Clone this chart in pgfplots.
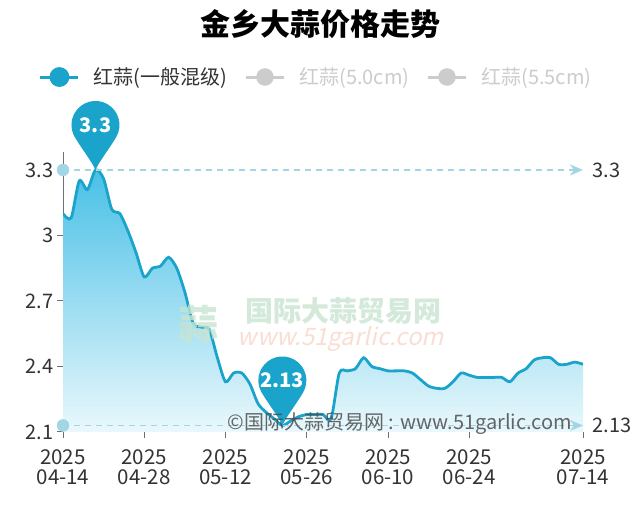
\documentclass[border=0pt]{standalone}
\usepackage{fontspec}
\setmainfont{Noto Sans CJK SC}
\newfontfamily\wmit[FakeSlant=0.22]{Noto Sans CJK SC}
\usepackage{pgfplots}
\usepackage{pgfplotstable}
\pgfplotsset{compat=1.18}
\usetikzlibrary{arrows.meta}

\definecolor{mainblue}{RGB}{26,164,204}
\definecolor{markblue}{RGB}{163,214,228}
\definecolor{fillTop}{RGB}{72,192,230}
\definecolor{fillBot}{RGB}{234,248,252}
\definecolor{axisgray}{RGB}{110,112,121}
\definecolor{ticktext}{RGB}{51,51,51}
\definecolor{legendgray}{RGB}{204,204,204}
\definecolor{wmgreen}{RGB}{200,228,208}
\definecolor{wmred}{RGB}{248,214,202}

\pgfdeclareplotmark{pin}{%
  \pgfpathmoveto{\pgfpoint{0pt}{0pt}}%
  \pgfpathcurveto{\pgfpoint{4pt}{9pt}}{\pgfpoint{13pt}{20pt}}{\pgfpoint{20.78pt}{33pt}}%
  \pgfpatharc{-30}{210}{24pt}%
  \pgfpathcurveto{\pgfpoint{-13pt}{20pt}}{\pgfpoint{-4pt}{9pt}}{\pgfpoint{0pt}{0pt}}%
  \pgfpathclose
  \pgfusepathqfill}

\pgfplotstableread{
x y
0 3.10
1 3.08
2 3.25
3 3.21
4 3.30
5 3.26
6 3.12
7 3.10
8 3.02
9 2.92
10 2.81
11 2.85
12 2.86
13 2.90
14 2.85
15 2.74
16 2.60
17 2.58
18 2.57
19 2.44
20 2.33
21 2.37
22 2.37
23 2.32
24 2.23
25 2.19
26 2.16
27 2.13
28 2.15
29 2.17
30 2.18
31 2.18
32 2.18
33 2.16
34 2.37
35 2.38
36 2.39
37 2.44
38 2.40
39 2.39
40 2.38
41 2.38
42 2.38
43 2.37
44 2.34
45 2.31
46 2.30
47 2.30
48 2.33
49 2.37
50 2.36
51 2.35
52 2.35
53 2.35
54 2.35
55 2.33
56 2.37
57 2.39
58 2.43
59 2.44
60 2.44
61 2.41
62 2.41
63 2.42
64 2.41
}\pricedata

\pgfplotstableread{
x y m
4 3.30 3.3
27 2.13 2.13
}\pindata

\pgfplotsset{frame/.style={
  at={(63pt,74pt)}, anchor=south west,
  width=520pt, height=279.5pt, scale only axis,
  xmin=0, xmax=64, ymin=2.1, ymax=3.38}}

\begin{document}
\begin{tikzpicture}[x=1pt,y=1pt]
\useasboundingbox[fill=white] (0,0) rectangle (640,506);
\node[font=\fontsize{30}{36}\selectfont\bfseries, text=black] at (320,482) {金乡大蒜价格走势};

\begin{axis}[
  frame,
  axis lines*=left,
  axis line style={color=axisgray, line width=1pt},
  tick align=outside, major tick length=6pt,
  tick style={color=axisgray, line width=1pt},
  xtick={0,10,20,30,40,50,64},
  xticklabels={{2025\\04-14},{2025\\04-28},{2025\\05-12},{2025\\05-26},{2025\\06-10},{2025\\06-24},{2025\\07-14}},
  xticklabel style={align=center, font=\fontsize{20.5}{20}\selectfont, text=ticktext, yshift=-8pt},
  ytick={2.1,2.4,2.7,3,3.3},
  yticklabels={2.1,2.4,2.7,3,3.3},
  yticklabel style={font=\fontsize{20}{24}\selectfont, text=ticktext},
  /pgf/number format/assume math mode=true,
  legend columns=3,
  legend cell align=left,
  legend style={at={(0.485,1.27)}, anchor=center, draw=none, fill=none,
    font=\fontsize{20}{24}\selectfont, text=ticktext, inner sep=0pt,
    nodes={inner sep=0pt},
    /tikz/every odd column/.append style={column sep=14pt},
    /tikz/every even column/.append style={column sep=17pt}},
  legend image code/.code={%
    \draw[line width=3pt] (0pt,0pt) -- (38pt,0pt);
    \fill (19pt,0pt) circle (8.5pt);},
]
\addplot[draw=none, top color=fillTop, bottom color=fillBot, smooth, tension=0.45, forget plot]
  table[x=x,y=y] {\pricedata} \closedcycle;
\addplot[color=mainblue, line width=2.8pt, smooth, tension=0.45] table[x=x,y=y] {\pricedata};
\addlegendentry{红蒜(一般混级)}
\addlegendimage{color=legendgray}
\addlegendentry[text=legendgray]{红蒜(5.0cm)}
\addlegendimage{color=legendgray}
\addlegendentry[text=legendgray]{红蒜(5.5cm)}
\end{axis}

\begin{axis}[frame, hide axis, clip=false]
\addplot[color=markblue, line width=1.3pt, dash pattern=on 6pt off 5pt,
  -{Stealth[length=13pt,width=11pt,inset=4pt]}]
  coordinates {(0,3.3) (64,3.3)};
\addplot[color=markblue, line width=1.3pt, dash pattern=on 6pt off 5pt,
  -{Stealth[length=13pt,width=11pt,inset=4pt]}]
  coordinates {(0,2.13) (64,2.13)};
\addplot[only marks, mark=*, mark size=6pt, color=markblue]
  coordinates {(0,3.3) (0,2.13)};
\addplot[only marks, mark=none, point meta=explicit symbolic, nodes near coords,
  every node near coord/.style={anchor=west, xshift=6pt, text=ticktext,
    font=\fontsize{20}{24}\selectfont}]
  coordinates {(64,3.3) [3.3] (64,2.13) [2.13]};
\addplot[only marks, mark=pin, color=mainblue, fill=mainblue,
  point meta=explicit symbolic, nodes near coords,
  every node near coord/.style={anchor=center, yshift=45pt, text=white,
    font=\fontsize{20}{24}\selectfont\bfseries}]
  table[x=x, y=y, meta=m] {\pindata};
\end{axis}

% watermarks
\node[text=wmgreen, font=\fontsize{40}{44}\selectfont\bfseries, opacity=0.8] at (198,182) {蒜};
\node[text=wmgreen, font=\fontsize{28}{30}\selectfont\bfseries, opacity=0.8, inner sep=0pt] at (343,195) {国际大蒜贸易网};
\node[text=wmred, font=\fontsize{24}{26}\selectfont\wmit, opacity=0.8, inner sep=0pt] at (341,167) {www.51garlic.com};
\node[text=black!70, font=\fontsize{20}{24}\selectfont, opacity=0.85] at (400,82) {©国际大蒜贸易网 : www.51garlic.com};
\end{tikzpicture}
\end{document}
